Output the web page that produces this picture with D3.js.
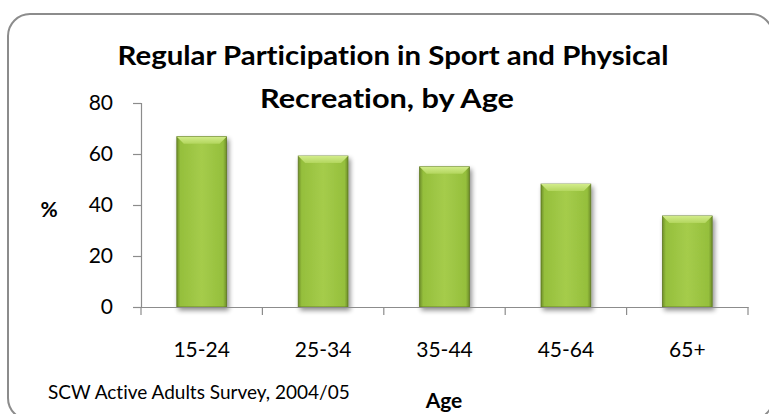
<!DOCTYPE html>
<html>
<head>
<meta charset="utf-8">
<script src="https://cdn.jsdelivr.net/npm/d3@7"></script>
<style>
  body { margin: 0; background: #fff; }
  text { font-family: Lato, "Open Sans", sans-serif; fill: #000; font-variant-ligatures: none; }
</style>
</head>
<body>
<div id="chart"></div>
<script>
var ages = ["15-24", "25-34", "35-44", "45-64", "65+"];
var pct = [66.8, 59.2, 55.0, 48.2, 35.7];
var yTicks = [0, 20, 40, 60, 80];

var W = 769, H = 414;
var margin = {top: 103, right: 21, bottom: 107, left: 141},
    width = W - margin.left - margin.right,
    height = H - margin.top - margin.bottom;

var root = d3.select("#chart").append("svg")
    .attr("width", W)
    .attr("height", H);

var defs = root.append("defs");
var grad = defs.append("linearGradient").attr("id", "barGrad")
    .attr("x1", "0").attr("x2", "1").attr("y1", "0").attr("y2", "0");
grad.append("stop").attr("offset", "0%").attr("stop-color", "#6f8f2a");
grad.append("stop").attr("offset", "7%").attr("stop-color", "#95bf3c");
grad.append("stop").attr("offset", "50%").attr("stop-color", "#a5cc4b");
grad.append("stop").attr("offset", "93%").attr("stop-color", "#95bf3c");
grad.append("stop").attr("offset", "100%").attr("stop-color", "#6f8f2a");

var topGrad = defs.append("linearGradient").attr("id", "topGrad")
    .attr("x1", "0").attr("x2", "0").attr("y1", "0").attr("y2", "1");
topGrad.append("stop").attr("offset", "0%").attr("stop-color", "#d2ec8a");
topGrad.append("stop").attr("offset", "100%").attr("stop-color", "#b3d65e");

var shadow = defs.append("filter").attr("id", "shadow")
    .attr("x", "-30%").attr("y", "-10%").attr("width", "160%").attr("height", "125%");
shadow.append("feGaussianBlur").attr("in", "SourceAlpha").attr("stdDeviation", 2.5);
shadow.append("feOffset").attr("dx", 2).attr("dy", 3).attr("result", "blur");
shadow.append("feComponentTransfer").append("feFuncA").attr("type", "linear").attr("slope", 0.45);
var merge = shadow.append("feMerge");
merge.append("feMergeNode");
merge.append("feMergeNode").attr("in", "SourceGraphic");

// outer rounded border
root.append("rect")
    .attr("x", 8).attr("y", 14)
    .attr("width", 765).attr("height", 406)
    .attr("rx", 22).attr("ry", 22)
    .attr("fill", "none")
    .attr("stroke", "#8c8c8c")
    .attr("stroke-width", 2);

var svg = root.append("g")
    .attr("transform", "translate(" + margin.left + "," + margin.top + ")");

var x = d3.scaleBand().domain(ages).range([0, width]).padding(0),
    y = d3.scaleLinear().domain([0, 80]).range([height, 0]);

var barW = x.bandwidth() * 0.41;

// bars
var bars = svg.selectAll(".bar")
    .data(ages)
  .enter().append("g")
    .attr("class", "bar")
    .attr("filter", "url(#shadow)");

bars.append("rect")
    .attr("x", function(d) { return x(d) + (x.bandwidth() - barW) / 2; })
    .attr("y", function(d, i) { return y(pct[i]); })
    .attr("width", barW)
    .attr("height", function(d, i) { return height - y(pct[i]); })
    .attr("fill", "url(#barGrad)")
    .attr("stroke", "#5f7a22")
    .attr("stroke-width", 0.8);

// top bevel
bars.append("path")
    .attr("d", function(d, i) {
      var x0 = x(d) + (x.bandwidth() - barW) / 2, x1 = x0 + barW,
          y0 = y(pct[i]), b = 7;
      return "M" + x0 + "," + y0 + "L" + x1 + "," + y0 +
             "L" + (x1 - b) + "," + (y0 + b) + "L" + (x0 + b) + "," + (y0 + b) + "Z";
    })
    .attr("fill", "url(#topGrad)");

// y axis
svg.append("g")
    .attr("class", "y-axis")
    .call(d3.axisLeft(y).tickValues(yTicks).tickSize(8).tickPadding(20))
    .call(function(g) {
      g.selectAll("line, path").attr("stroke", "#8c8c8c").attr("stroke-width", 1.2);
      g.selectAll("text").attr("font-size", "21px").attr("font-family", "Lato").attr("fill", "#000");
    });

// x axis line + boundary ticks
var xAxis = svg.append("g")
    .attr("class", "x-axis")
    .attr("transform", "translate(0," + height + ")")
    .call(d3.axisBottom(x).tickSize(0).tickPadding(35))
    .call(function(g) {
      g.select(".domain").attr("stroke", "#8c8c8c").attr("stroke-width", 1.2);
      g.selectAll("text").attr("font-size", "21px").attr("font-family", "Lato").attr("fill", "#000");
    });

xAxis.selectAll(".edge")
    .data(ages.map(function(d) { return x(d); }).concat([width]))
  .enter().append("line")
    .attr("class", "edge")
    .attr("x1", function(d) { return d; })
    .attr("x2", function(d) { return d; })
    .attr("y1", 0).attr("y2", 8)
    .attr("stroke", "#8c8c8c")
    .attr("stroke-width", 1.2);

// title
root.append("text")
    .attr("x", 393).attr("y", 65)
    .style("text-anchor", "middle")
    .attr("font-size", "27px")
    .attr("font-weight", "700")
    .attr("textLength", 551)
    .attr("lengthAdjust", "spacingAndGlyphs")
    .text("Regular Participation in Sport and Physical");

root.append("text")
    .attr("x", 387).attr("y", 108)
    .style("text-anchor", "middle")
    .attr("font-size", "27px")
    .attr("font-weight", "700")
    .attr("textLength", 254)
    .attr("lengthAdjust", "spacingAndGlyphs")
    .text("Recreation, by Age");

// axis titles
root.append("text")
    .attr("x", 49).attr("y", 217)
    .style("text-anchor", "middle")
    .attr("font-size", "21px")
    .attr("font-weight", "700")
    .text("%");

root.append("text")
    .attr("x", 444).attr("y", 408)
    .style("text-anchor", "middle")
    .attr("font-size", "21px")
    .attr("font-weight", "700")
    .text("Age");

// source note
root.append("text")
    .attr("x", 48).attr("y", 399)
    .attr("font-size", "19px")
    .text("SCW Active Adults Survey, 2004/05");
</script>
</body>
</html>
